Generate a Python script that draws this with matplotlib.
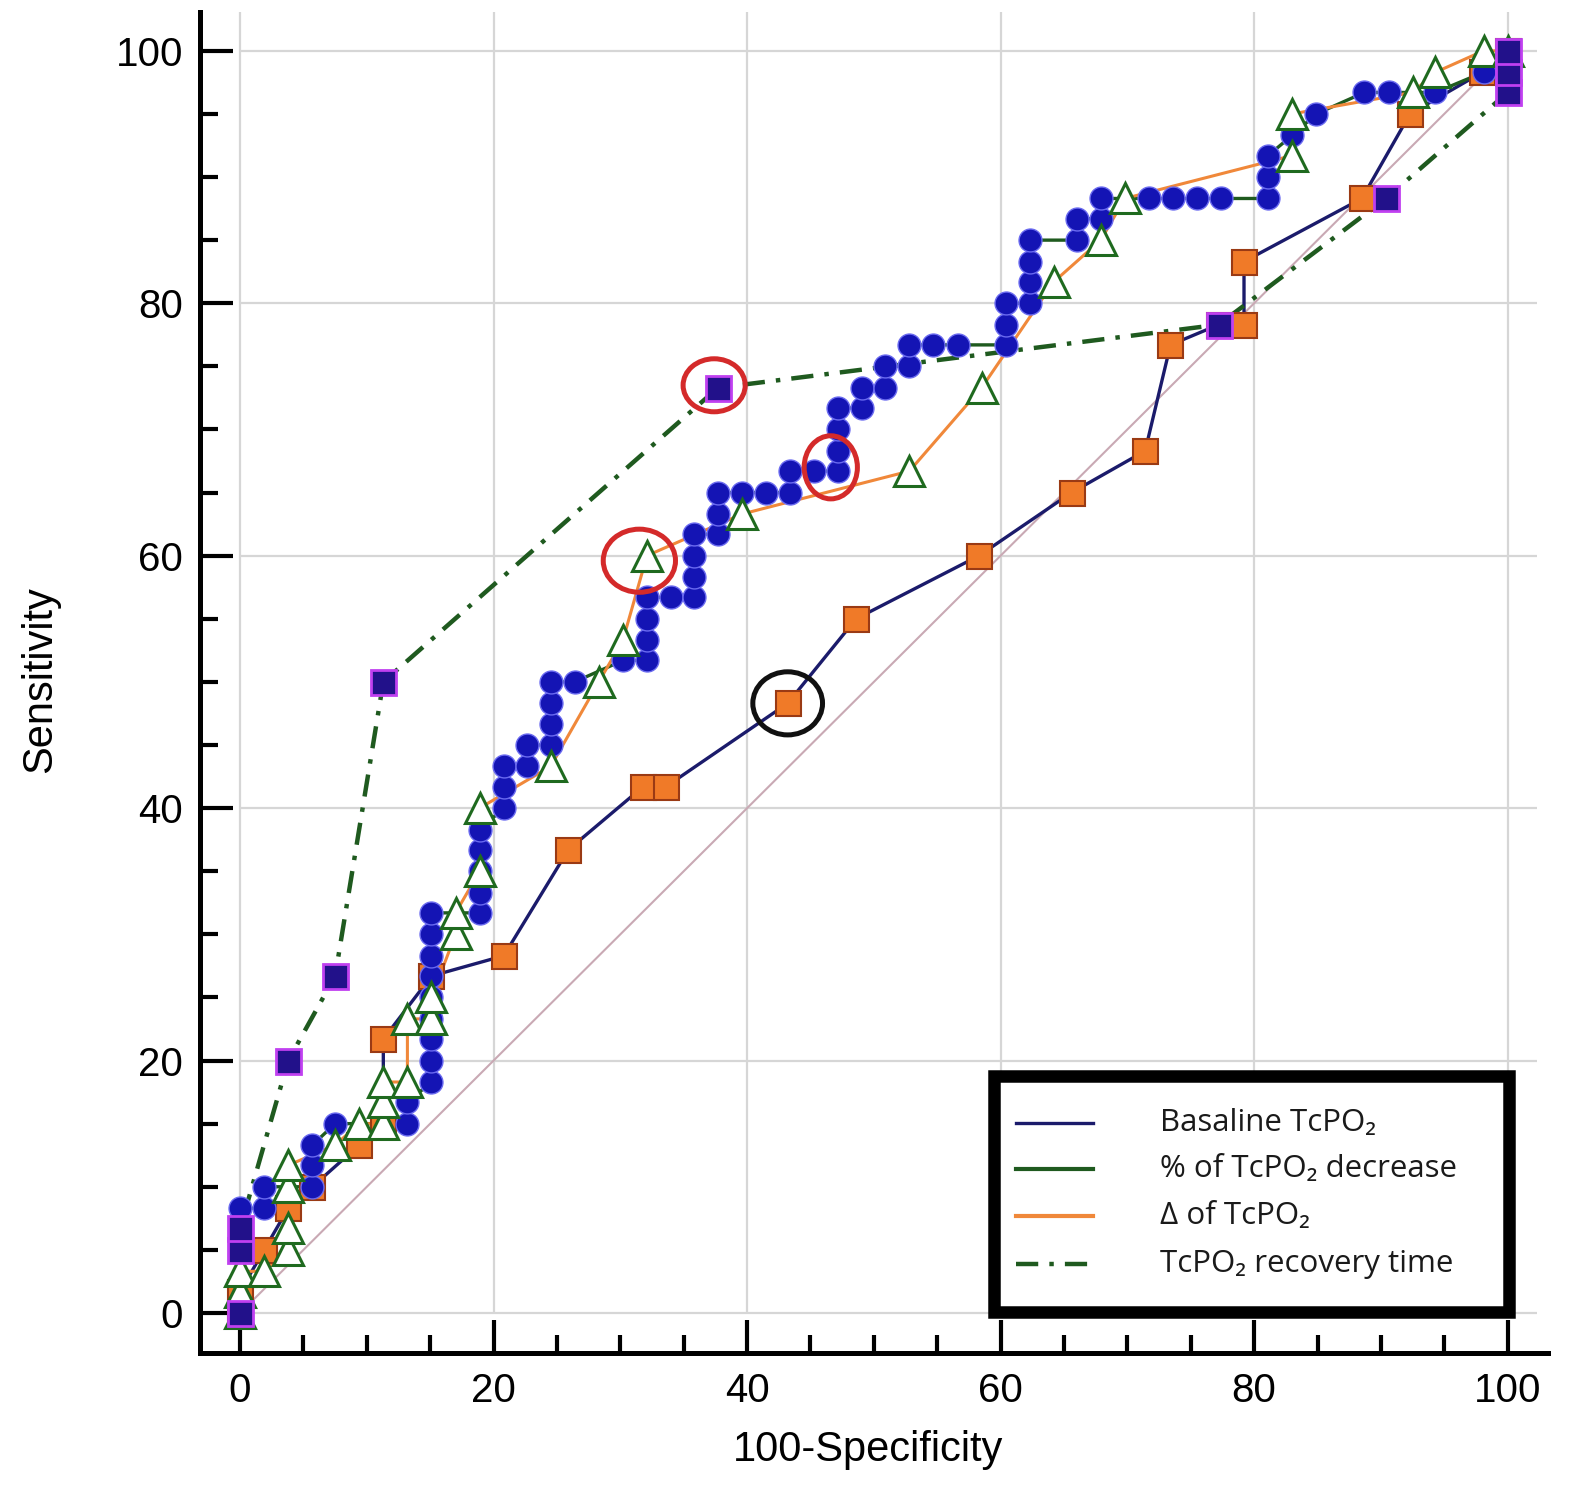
import matplotlib
matplotlib.use("Agg")
import matplotlib.pyplot as plt
from matplotlib.patches import Ellipse, Rectangle
from matplotlib.lines import Line2D
from matplotlib.ticker import MultipleLocator

# ---------------- data ----------------
basaline_pts = [(0, 0), (0, 1.7), (1.9, 5.0), (3.8, 8.3), (5.7, 10.0), (9.4, 13.3),
                (11.3, 15.0), (11.3, 21.7), (15.1, 26.7), (20.8, 28.3), (25.9, 36.7),
                (31.8, 41.7), (33.6, 41.7), (43.2, 48.3), (48.6, 55.0), (58.3, 60.0),
                (65.6, 65.0), (71.4, 68.3), (73.4, 76.7), (77.2, 78.3), (79.2, 78.3),
                (79.2, 83.3), (88.5, 88.3), (92.3, 95.0), (98.0, 98.3), (100, 100)]

decrease_pts = [(0, 0), (0, 8.3), (1.9, 8.3), (1.9, 10.0), (5.7, 10.0), (5.7, 11.7),
                (5.7, 13.3), (7.5, 15.0), (13.2, 15.0), (13.2, 16.7), (15.1, 18.3),
                (15.1, 20.0), (15.1, 21.7), (15.1, 23.3), (15.1, 25.0), (15.1, 26.7),
                (15.1, 28.3), (15.1, 30.0), (15.1, 31.7), (18.9, 31.7), (18.9, 33.3),
                (18.9, 35.0), (18.9, 36.7), (18.9, 38.3), (20.8, 40.0), (20.8, 41.7),
                (20.8, 43.3), (22.6, 43.3), (22.6, 45.0), (24.5, 45.0), (24.5, 46.7),
                (24.5, 48.3), (24.5, 50.0), (26.4, 50.0), (30.2, 51.7), (32.1, 51.7),
                (32.1, 53.3), (32.1, 55.0), (32.1, 56.7), (34.0, 56.7), (35.8, 56.7),
                (35.8, 58.3), (35.8, 60.0), (35.8, 61.7), (37.7, 61.7), (37.7, 63.3),
                (37.7, 65.0), (39.6, 65.0), (41.5, 65.0), (43.4, 65.0), (43.4, 66.7),
                (45.3, 66.7), (47.2, 66.7), (47.2, 68.3), (47.2, 70.0), (47.2, 71.7),
                (49.1, 71.7), (49.1, 73.3), (50.9, 73.3), (50.9, 75.0), (52.8, 75.0),
                (52.8, 76.7), (54.7, 76.7), (56.6, 76.7), (60.4, 76.7), (60.4, 78.3),
                (60.4, 80.0), (62.3, 80.0), (62.3, 81.7), (62.3, 83.3), (62.3, 85.0),
                (66.0, 85.0), (66.0, 86.7), (67.9, 86.7), (67.9, 88.3), (71.7, 88.3),
                (73.6, 88.3), (75.5, 88.3), (77.4, 88.3), (81.1, 88.3), (81.1, 90.0),
                (81.1, 91.7), (83.0, 93.3), (84.9, 95.0), (88.7, 96.7), (90.6, 96.7),
                (94.3, 96.7), (98.1, 98.3), (100, 100)]

delta_pts = [(0, 0), (0, 1.7), (0, 3.3), (1.9, 3.3), (3.8, 5.0), (3.8, 6.7), (3.8, 10.0),
             (3.8, 11.7), (7.5, 13.3), (9.4, 15.0), (11.3, 15.0), (11.3, 16.7), (11.3, 18.3),
             (13.2, 18.3), (13.2, 23.3), (15.1, 23.3), (15.1, 25.0), (17.0, 30.0),
             (17.0, 31.7), (18.9, 35.0), (18.9, 40.0), (24.5, 43.3), (28.3, 50.0),
             (30.2, 53.3), (32.1, 60.0), (39.6, 63.3), (52.8, 66.7), (58.5, 73.3),
             (64.2, 81.7), (67.9, 85.0), (69.8, 88.3), (83.0, 91.7), (83.0, 95.0),
             (92.5, 96.7), (94.3, 98.3), (98.1, 100), (100, 100)]

recovery_pts = [(0, 0), (0, 5.0), (0, 6.7), (3.8, 20.0), (7.5, 26.7), (11.3, 50.0),
                (37.7, 73.3), (77.2, 78.3), (90.4, 88.3), (100, 96.7), (100, 98.3), (100, 100)]

diagonal_x = [0, 100]
diagonal_y = [0, 100]

# highlighted points (centre x, centre y, width, height) in data units
red_highlights = [(37.4, 73.5, 4.9, 4.2), (46.6, 67.0, 4.2, 5.0), (31.5, 59.6, 5.7, 5.0)]
black_highlights = [(43.2, 48.3, 5.5, 5.0)]

legend_labels = ["Basaline TcPO\u2082", "% of TcPO\u2082 decrease", "\u0394 of TcPO\u2082",
                 "TcPO\u2082 recovery time"]

x_ticks = [0, 20, 40, 60, 80, 100]
y_ticks = [0, 20, 40, 60, 80, 100]

# ---------------- styling ----------------
NAVY = "#1b1b6b"
DKGREEN = "#1f5a1f"
ORANGE = "#f0883a"
DASHDOT = (0, (5, 2.5, 1, 2.5))


def xy(pts):
    return [p[0] for p in pts], [p[1] for p in pts]


fig = plt.figure(figsize=(15.75, 14.97), dpi=100)
ax = fig.add_axes([0.127, 0.0962, 0.856, 0.896])
XMAX, YMAX = 103.2, 103.1
ax.set_xlim(-3.16, XMAX)
ax.set_ylim(-3.17, YMAX)

# grid
ax.hlines(y_ticks, 0, 102.3, colors="#d6d6d6", lw=1.6, zorder=0)
ax.vlines(x_ticks, 0, YMAX, colors="#d6d6d6", lw=1.6, zorder=0)

# diagonal reference
ax.plot(diagonal_x, diagonal_y, color="#c9a9b4", lw=1.5, zorder=1)

bx, by = xy(basaline_pts)
dx, dy = xy(decrease_pts)
tx, ty = xy(delta_pts)
rx, ry = xy(recovery_pts)

# lines
ax.plot(bx, by, color=NAVY, lw=2.4, zorder=2)
ax.plot(dx, dy, color=DKGREEN, lw=2.4, zorder=2)
ax.plot(tx, ty, color=ORANGE, lw=2.2, zorder=2)
ax.plot(rx, ry, color=DKGREEN, lw=3.2, ls=DASHDOT, zorder=2)

# markers
ax.plot(bx, by, ls="none", marker="s", ms=18, mfc="#f07a28", mec="#9a3a14", mew=1.5, zorder=3)
ax.plot(dx, dy, ls="none", marker="o", ms=16.5, mfc="#1414b4", mec="#6a6af0", mew=1.0, zorder=4)
ax.plot(tx, ty, ls="none", marker="^", ms=22, mfc="white", mec="#1f6a1f", mew=2.2, zorder=5)
ax.plot(rx, ry, ls="none", marker="s", ms=18, mfc="#22118a", mec="#c040f0", mew=2.0, zorder=6)

# highlight ellipses
for cx, cy, w, h in red_highlights:
    ax.add_patch(Ellipse((cx, cy), w, h, fill=False, ec="#d42a2a", lw=3.6, zorder=7))
for cx, cy, w, h in black_highlights:
    ax.add_patch(Ellipse((cx, cy), w, h, fill=False, ec="#111111", lw=3.6, zorder=7))

# spines / ticks
for s in ("top", "right"):
    ax.spines[s].set_visible(False)
for s in ("left", "bottom"):
    ax.spines[s].set_linewidth(3.6)
    ax.spines[s].set_color("black")

ax.set_xticks(x_ticks)
ax.set_yticks(y_ticks)
ax.xaxis.set_minor_locator(MultipleLocator(5))
ax.yaxis.set_minor_locator(MultipleLocator(5))
ax.tick_params(which="major", direction="in", length=24, width=3, labelsize=29, pad=12,
               colors="black")
ax.tick_params(which="minor", direction="in", length=13, width=3)
for lab in ax.get_xticklabels() + ax.get_yticklabels():
    lab.set_fontfamily("Liberation Sans")
ax.tick_params(axis="x", pad=14)

ax.set_xlabel("100-Specificity", fontsize=30, family="Liberation Sans", va="center")
ax.set_ylabel("Sensitivity", fontsize=30, family="Liberation Sans", va="center")
ax.xaxis.set_label_coords(0.4955, -0.072)
ax.yaxis.set_label_coords(-0.1187, 0.502)

# legend box (drawn manually)
box = Rectangle((0.589, 0.0306), 0.971 - 0.589, 0.2066 - 0.0306, transform=ax.transAxes,
                fc="white", ec="black", lw=9, zorder=10, joinstyle="miter")
ax.add_patch(box)
row_y = [0.1715, 0.1372, 0.1022, 0.0664]
handle_styles = [dict(color=NAVY, lw=2.4), dict(color=DKGREEN, lw=3.0),
                 dict(color=ORANGE, lw=3.0), dict(color=DKGREEN, lw=3.2, ls=DASHDOT)]
for yy, lab, st in zip(row_y, legend_labels, handle_styles):
    ax.add_line(Line2D([0.605, 0.662], [yy, yy], transform=ax.transAxes, zorder=11, **st))
    ax.text(0.712, yy, lab, transform=ax.transAxes, fontsize=22.5, va="center", ha="left",
            family=["Open Sans", "DejaVu Sans"], color="#1a1a1a", zorder=11)

fig.savefig("out.png", dpi=100)
